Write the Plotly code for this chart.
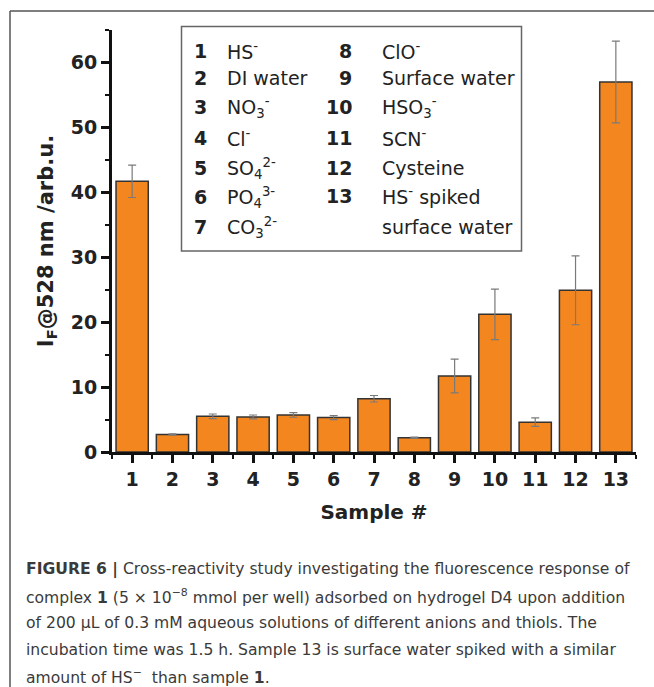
import plotly.graph_objects as go

# ---- data ----
samples = [1, 2, 3, 4, 5, 6, 7, 8, 9, 10, 11, 12, 13]
intensity = [41.7, 2.7, 5.5, 5.4, 5.7, 5.3, 8.2, 2.2, 11.7, 21.2, 4.6, 24.9, 57.0]
errors = [2.5, 0.1, 0.35, 0.3, 0.35, 0.3, 0.5, 0.1, 2.6, 3.9, 0.65, 5.3, 6.3]
sample_labels = [
    "HS<sup>-</sup>", "DI water", "NO<sub>3</sub><sup>-</sup>", "Cl<sup>-</sup>",
    "SO<sub>4</sub><sup>2-</sup>", "PO<sub>4</sub><sup>3-</sup>", "CO<sub>3</sub><sup>2-</sup>",
    "ClO<sup>-</sup>", "Surface water", "HSO<sub>3</sub><sup>-</sup>", "SCN<sup>-</sup>",
    "Cysteine", "HS<sup>-</sup> spiked<br>surface water",
]
y_ticks = [0, 10, 20, 30, 40, 50, 60]
x_title = "Sample #"
y_title = "I<sub>F</sub>@528 nm /arb.u."
caption_lines = [
    "<b>FIGURE 6 |</b> Cross-reactivity study investigating the fluorescence response of",
    "complex <b>1</b> (5 × 10<sup>−8</sup> mmol per well) adsorbed on hydrogel D4 upon addition",
    "of 200 μL of 0.3 mM aqueous solutions of different anions and thiols. The",
    "incubation time was 1.5 h. Sample 13 is surface water spiked with a similar",
    "amount of HS<sup>−</sup>  than sample <b>1</b>.",
]

W, H = 654, 687
L, R, T, B = 112, 18, 30, 235
PW, PH = W - L - R, H - T - B

def px(x):
    return (x - L) / PW

def py(y):
    return (H - B - y) / PH

FONT = "DejaVu Sans, Liberation Sans, Arial, sans-serif"
BAR = "#F4861F"
TXT = "#222222"

fig = go.Figure()
fig.add_trace(go.Bar(
    x=samples, y=intensity, width=0.8,
    marker=dict(color=BAR, line=dict(color="#333333", width=1.5)),
    error_y=dict(type="data", array=errors, color="#7a7a7a", thickness=1.2, width=4),
    showlegend=False,
))

fig.update_layout(
    width=W, height=H, autosize=False,
    margin=dict(l=L, r=R, t=T, b=B, pad=0),
    paper_bgcolor="white", plot_bgcolor="white",
    font=dict(family=FONT, color=TXT),
)
fig.update_xaxes(
    range=[0.5, 13.5], tickmode="array", tickvals=samples,
    ticktext=[f"<b>{s}</b>" for s in samples],
    showline=True, linecolor="#111111", linewidth=3,
    ticks="outside", ticklen=8, tickwidth=3, tickcolor="#111111",
    tickfont=dict(size=19, family=FONT, color=TXT),
    showgrid=False, zeroline=False,
    minor=dict(tickmode="array", tickvals=[s + 0.5 for s in [0] + samples],
               ticks="outside", ticklen=4, tickwidth=2, tickcolor="#111111", showgrid=False),
    title=dict(text=f"<b>{x_title}</b>", font=dict(size=20, family=FONT, color=TXT), standoff=17),
)
fig.update_yaxes(
    range=[0, 65], tickmode="array", tickvals=y_ticks,
    ticktext=[f"<b>{v}</b>" for v in y_ticks],
    showline=True, linecolor="#111111", linewidth=3,
    ticks="outside", ticklen=8, tickwidth=3, tickcolor="#111111",
    tickfont=dict(size=19, family=FONT, color=TXT),
    showgrid=False, zeroline=False,
    minor=dict(tickmode="array", tickvals=[v + 5 for v in y_ticks],
               ticks="outside", ticklen=4, tickwidth=2, tickcolor="#111111", showgrid=False),
    title=dict(text=f"<b>{y_title}</b>", font=dict(size=21, family=FONT, color=TXT), standoff=12),
)

shapes = []
# legend box
shapes.append(dict(type="rect", xref="paper", yref="paper",
                   x0=px(181.5), x1=px(521.5), y0=py(251), y1=py(26.5),
                   line=dict(color="#666666", width=1.5), fillcolor="white", layer="above"))
# outer figure border (left & top)
shapes.append(dict(type="line", xref="paper", yref="paper",
                   x0=px(10), x1=px(10), y0=py(11), y1=py(H + 5),
                   line=dict(color="#555555", width=1.5)))
shapes.append(dict(type="line", xref="paper", yref="paper",
                   x0=px(10), x1=px(W + 5), y0=py(11), y1=py(11),
                   line=dict(color="#555555", width=1.5)))

annotations = []
left_rows = [51, 78, 107, 138, 168, 197, 227]
right_rows = [51, 78, 107, 138, 168, 196, 227]
LEG = 19
for i, (s, lab) in enumerate(zip(samples, sample_labels)):
    if i < 7:
        yy = left_rows[i]
        annotations.append(dict(x=px(200), y=py(yy), xref="paper", yref="paper",
                                text=f"<b>{s}</b>", showarrow=False, xanchor="center", yanchor="middle",
                                font=dict(size=LEG, family=FONT, color=TXT)))
        annotations.append(dict(x=px(225), y=py(yy), xref="paper", yref="paper",
                                text=lab, showarrow=False, xanchor="left", yanchor="middle",
                                font=dict(size=LEG, family=FONT, color=TXT)))
    else:
        j = i - 7
        yy = right_rows[j]
        annotations.append(dict(x=px(354), y=py(yy), xref="paper", yref="paper",
                                text=f"<b>{s}</b>", showarrow=False, xanchor="right", yanchor="middle",
                                font=dict(size=LEG, family=FONT, color=TXT)))
        for k, part in enumerate(lab.split("<br>")):
            annotations.append(dict(x=px(380), y=py(right_rows[j + k]), xref="paper", yref="paper",
                                    text=part, showarrow=False, xanchor="left", yanchor="middle",
                                    font=dict(size=LEG, family=FONT, color=TXT)))

cap_rows = [569, 596, 623, 650, 676]
for line, yy in zip(caption_lines, cap_rows):
    annotations.append(dict(x=px(24), y=py(yy), xref="paper", yref="paper",
                            text=line, showarrow=False, xanchor="left", yanchor="middle",
                            font=dict(size=15.6, family=FONT, color="#3a3a3a")))

fig.update_layout(shapes=shapes, annotations=annotations)
fig.write_html("out.html", config={"displayModeBar": False},
               post_script="document.body.style.margin='0';document.body.style.overflow='hidden';")
